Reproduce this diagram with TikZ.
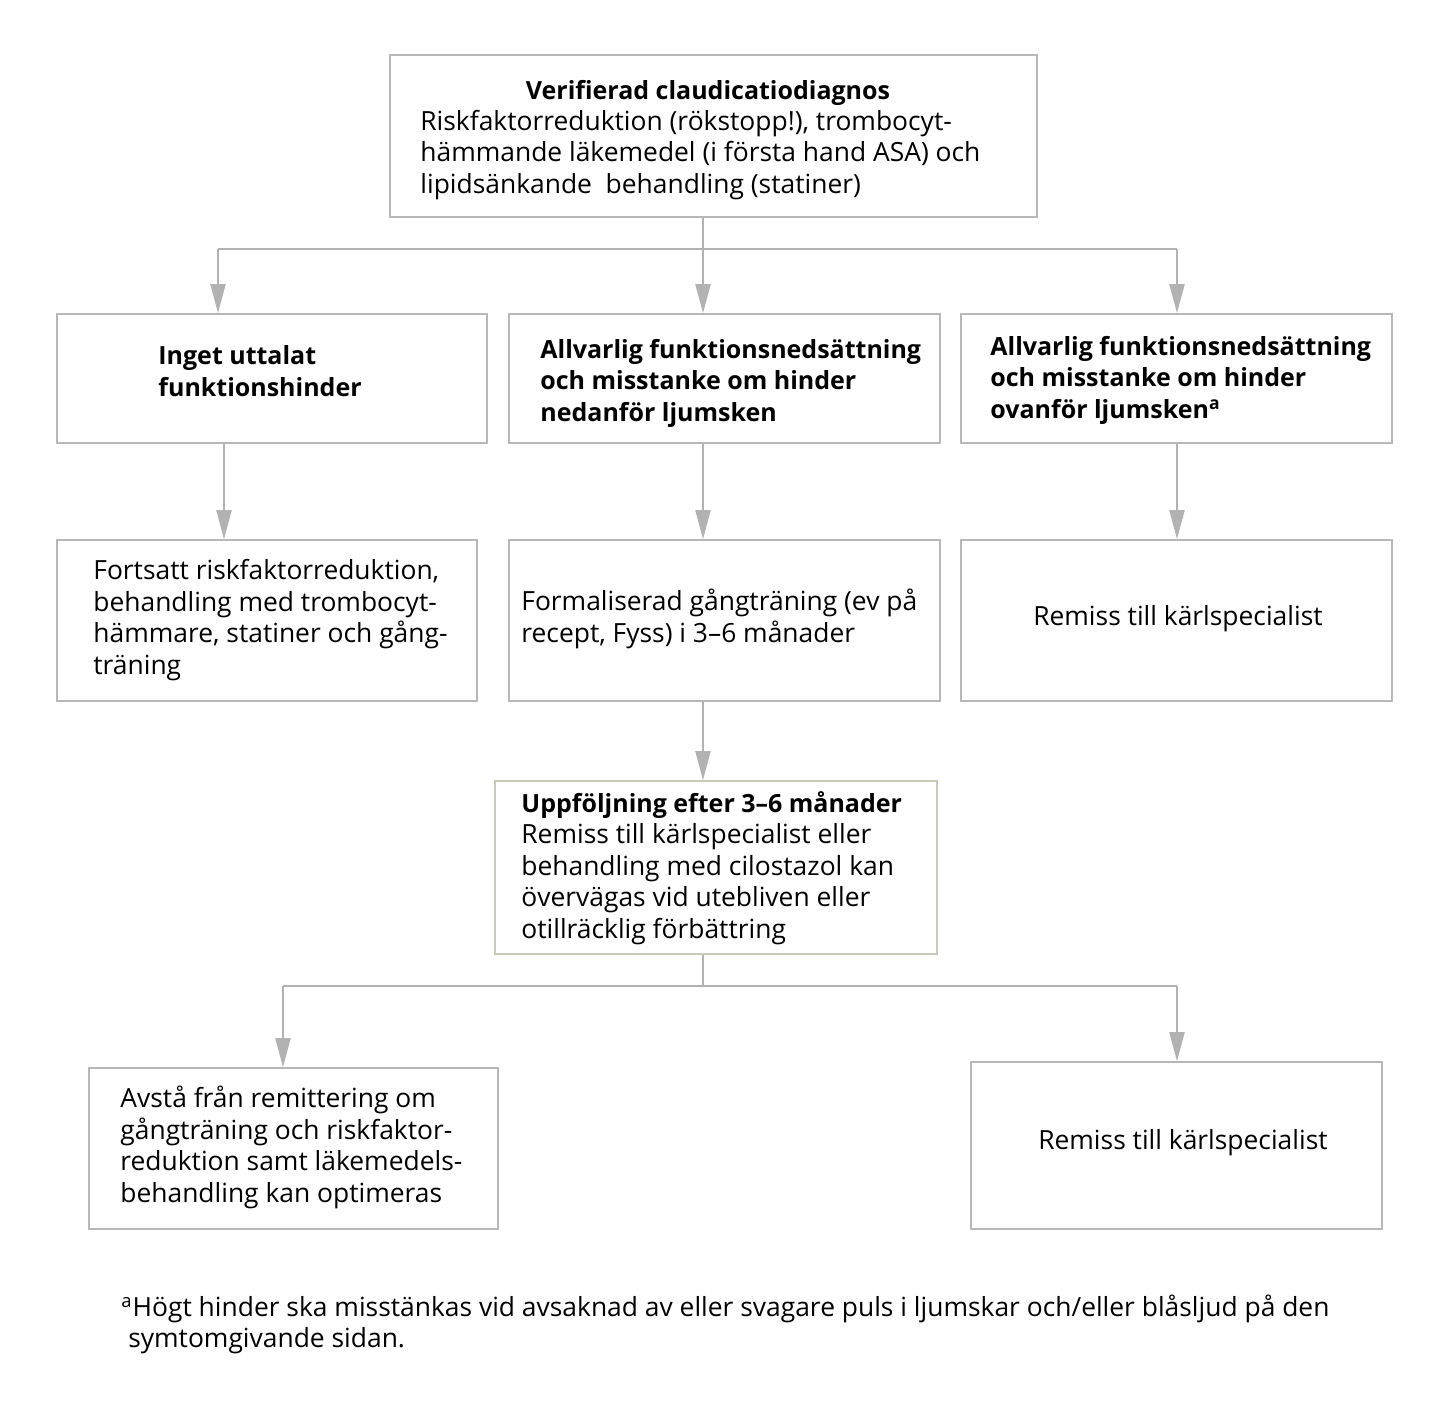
\documentclass[tikz,border=0pt]{standalone}
\usepackage{fontspec}
\setmainfont{Open Sans}
\usetikzlibrary{arrows.meta,fit}
\definecolor{linegray}{RGB}{178,178,178}
\definecolor{boxgray}{RGB}{184,184,184}
\definecolor{boxolive}{RGB}{200,203,186}
\newcommand{\regsize}{\fontsize{13.2}{15.75}\selectfont}
\newcommand{\boldsize}{\fontsize{12.5}{15.75}\selectfont\bfseries}

\begin{document}
\begin{tikzpicture}[x=0.5pt,y=-0.5pt,
  box/.style={draw=boxgray, line width=0.8pt, inner sep=0pt, fill=white},
  txt/.style={inner sep=0pt, align=left, font=\regsize},
  btxt/.style={inner sep=0pt, align=left, font=\boldsize},
  ctxt/.style={inner sep=0pt, align=center, font=\regsize},
  conn/.style={draw=linegray, line width=1pt},
  arr/.style={conn, -{Triangle[width=7.5pt,length=14.5pt,fill=linegray]}}
]
\useasboundingbox (0,0) rectangle (1447,1408);

% boxes
\node[box, fit={(390,55) (1037,217)}] (top) {};
\node[box, fit={(57,314) (487,443)}] (A) {};
\node[box, fit={(509,314) (940,443)}] (B) {};
\node[box, fit={(961,314) (1392,443)}] (C) {};
\node[box, fit={(57,540) (477,701)}] (D) {};
\node[box, fit={(509,540) (940,701)}] (E) {};
\node[box, fit={(961,540) (1392,701)}] (F) {};
\node[box, draw=boxolive, fit={(495,781) (937,954)}] (G) {};
\node[box, fit={(89,1068) (498,1229)}] (H) {};
\node[box, fit={(971,1062) (1382,1229)}] (I) {};

% texts
\node[btxt, align=center] (topT) at (708,93) {Verifierad claudicatiodiagnos};
\node[txt, anchor=west] (topB) at (420,155) {Riskfaktorreduktion (rökstopp!), trombocyt-\\hämmande läkemedel (i första hand ASA) och\\lipidsänkande\ \ behandling (statiner)};
\node[btxt, anchor=west] (tA) at (158,371) {Inget uttalat\\funktionshinder};
\node[btxt, anchor=west] (tB) at (540,383) {Allvarlig funktionsnedsättning\\och misstanke om hinder\\nedanför ljumsken};
\node[btxt, anchor=west] (tC) at (990,380) {Allvarlig funktionsnedsättning\\och misstanke om hinder\\ovanför ljumsken\textsuperscript{a}};
\node[txt, anchor=west] (tD) at (93,620) {Fortsatt riskfaktorreduktion,\\behandling med trombocyt-\\hämmare, statiner och gång-\\träning};
\node[txt, anchor=west] (tE) at (521,619) {Formaliserad gångträning (ev på\\recept, Fyss) i 3–6 månader};
\node[ctxt] (tF) at (1178,618.5) {Remiss till kärlspecialist};
\node[txt, anchor=west] (tG) at (521,868) {{\boldsize Uppföljning efter 3–6 månader}\\Remiss till kärlspecialist eller\\behandling med cilostazol kan\\övervägas vid utebliven eller\\otillräcklig förbättring};
\node[txt, anchor=west] (tH) at (120,1147.5) {Avstå från remittering om\\gångträning och riskfaktor-\\reduktion samt läkemedels-\\behandling kan optimeras};
\node[ctxt] (tI) at (1183,1142.5) {Remiss till kärlspecialist};
\node[txt, anchor=west] (foot) at (121,1324.5) {\textsuperscript{a}Högt hinder ska misstänkas vid avsaknad av eller svagare puls i ljumskar och/eller blåsljud på den\\\ symtomgivande sidan.};

% connector coordinates
\coordinate (b1) at (703,249);
\coordinate (cA) at (218,249);
\coordinate (cC) at (1177,249);
\coordinate (xAD) at (224,0);
\coordinate (b2) at (703,986);
\coordinate (cH) at (283,986);
\coordinate (cI) at (1177,986);

% first split
\draw[conn] (top.south -| b1) -- (b1);
\draw[conn] (cA) -- (cC);
\draw[arr] (cA) -- (cA |- A.north);
\draw[arr] (b1) -- (b1 |- B.north);
\draw[arr] (cC) -- (cC |- C.north);

% vertical steps
\draw[arr] (A.south -| xAD) -- (D.north -| xAD);
\draw[arr] (B.south -| b1) -- (E.north -| b1);
\draw[arr] (C.south -| cC) -- (F.north -| cC);
\draw[arr] (E.south -| b1) -- (G.north -| b1);

% second split
\draw[conn] (G.south -| b2) -- (b2);
\draw[conn] (cH) -- (cI);
\draw[arr] (cH) -- (cH |- H.north);
\draw[arr] (cI) -- (cI |- I.north);
\end{tikzpicture}
\end{document}
